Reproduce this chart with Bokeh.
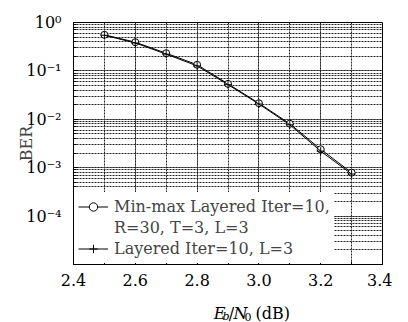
from bokeh.plotting import figure
from bokeh.layouts import column
from bokeh.models import (FixedTicker, CustomJSTickFormatter, Legend, LegendItem,
                          Label, Range1d, PrintfTickFormatter)
from bokeh.embed import file_html
from bokeh.resources import INLINE

# ---- data ----
ebn0 = [2.5, 2.6, 2.7, 2.8, 2.9, 3.0, 3.1, 3.2, 3.3]
ber_minmax = [0.557, 0.392, 0.232, 0.134, 0.054, 0.0215, 0.0081, 0.0024, 0.00079]
ber_layered = [0.545, 0.378, 0.222, 0.127, 0.052, 0.0207, 0.0077, 0.0022, 0.00074]
x_ticks = [2.4, 2.6, 2.8, 3.0, 3.2, 3.4]
y_decades = [1e-4, 1e-3, 1e-2, 1e-1, 1e0]
label_minmax_1 = "Min-max Layered Iter=10,"
label_minmax_2 = "R=30, T=3, L=3"
label_layered = "Layered Iter=10, L=3"
xlabel_parts = ["E", "b", "/", "N", "0", "(dB)"]

FONT = "DejaVu Serif"

p = figure(width=392, height=294, output_backend="svg", toolbar_location=None,
           y_axis_type="log", x_range=Range1d(2.4, 3.4), y_range=Range1d(1e-5, 1.0),
           min_border_left=73, min_border_top=22, min_border_right=10, min_border_bottom=30)

p.outline_line_color = "black"
p.outline_line_width = 1
p.background_fill_color = "white"

# x axis
p.xaxis.ticker = FixedTicker(ticks=x_ticks,
                             minor_ticks=[round(2.4 + 0.1 * i, 2) for i in range(11)])
p.xaxis.formatter = PrintfTickFormatter(format="%.1f")
p.xaxis.major_label_text_font = FONT
p.xaxis.major_label_text_font_size = "16px"
p.xaxis.major_label_standoff = 9
p.xaxis.axis_label = None

# y axis
minor_y = [m * 10.0 ** e for e in range(-5, 0) for m in range(1, 10)]
p.yaxis.ticker = FixedTicker(ticks=y_decades, minor_ticks=minor_y)
p.yaxis.formatter = CustomJSTickFormatter(code="""
const e = Math.round(Math.log10(tick));
const sup = {"-":"\u207b","0":"\u2070","1":"\u00b9","2":"\u00b2","3":"\u00b3","4":"\u2074","5":"\u2075"};
return "10" + String(e).split("").map(c => sup[c]).join("");
""")
p.yaxis.major_label_text_font = FONT
p.yaxis.major_label_text_font_size = "16px"
p.yaxis.major_label_standoff = 12
p.yaxis.axis_label = "BER"
p.yaxis.axis_label_text_font = FONT
p.yaxis.axis_label_text_font_size = "16px"
p.yaxis.axis_label_text_font_style = "normal"
p.yaxis.axis_label_standoff = -13

for ax in (p.xaxis, p.yaxis):
    ax.axis_line_color = "black"
    ax.major_tick_in = 5
    ax.major_tick_out = 0
    ax.minor_tick_in = 3
    ax.minor_tick_out = 0
    ax.major_tick_line_color = "black"
    ax.minor_tick_line_color = "black"
    ax.major_label_text_color = "black"

# grids
for g in (p.xgrid, p.ygrid):
    g.grid_line_color = "#222222"
    g.grid_line_dash = "2 1"
    g.grid_line_width = 1
    g.minor_grid_line_color = "#222222"
    g.minor_grid_line_dash = "2 1"
    g.minor_grid_line_width = 1

# series
l1 = p.line(ebn0, ber_minmax, line_color="black", line_width=1)
s1 = p.scatter(ebn0, ber_minmax, marker="circle", size=7, fill_color="white",
               line_color="black", line_width=1)
l2 = p.line(ebn0, ber_layered, line_color="black", line_width=1)
s2 = p.scatter(ebn0, ber_layered, marker="cross", size=8, line_color="black", line_width=1)
dummy = p.line([], [], line_alpha=0)

legend = Legend(items=[
    LegendItem(label=label_minmax_1, renderers=[l1, s1]),
    LegendItem(label=label_minmax_2, renderers=[dummy]),
    LegendItem(label=label_layered, renderers=[l2, s2]),
], location="bottom_left")
legend.margin = 1
legend.padding = 4
legend.spacing = 0
legend.glyph_width = 30
legend.glyph_height = 21
legend.label_height = 21
legend.label_standoff = 6
legend.label_text_font = FONT
legend.label_text_font_size = "16px"
legend.border_line_alpha = 0
legend.background_fill_alpha = 1
p.add_layout(legend)

# x axis label strip: E_b/N_0 (dB)
lab = figure(width=392, height=28, output_backend="svg", toolbar_location=None,
             x_range=Range1d(0, 392), y_range=Range1d(0, 28),
             min_border=0, min_border_left=0, min_border_right=0,
             min_border_top=0, min_border_bottom=0)
lab.axis.visible = False
lab.grid.visible = False
lab.outline_line_color = None
pos = [(178, 9, "16px", "italic"), (189, 6, "11px", "italic"), (197, 9, "16px", "normal"),
       (203, 9, "16px", "italic"), (217, 6, "11px", "normal"), (231, 9, "16px", "normal")]
for txt, (xs, ys, fs, st) in zip(xlabel_parts, pos):
    lab.add_layout(Label(x=xs, y=ys, text=txt, text_font=FONT, text_font_size=fs,
                         text_font_style=st, text_color="black",
                         text_baseline="alphabetic"))

layout = column(p, lab, spacing=0)
open("out.html", "w").write(file_html(layout, INLINE))
